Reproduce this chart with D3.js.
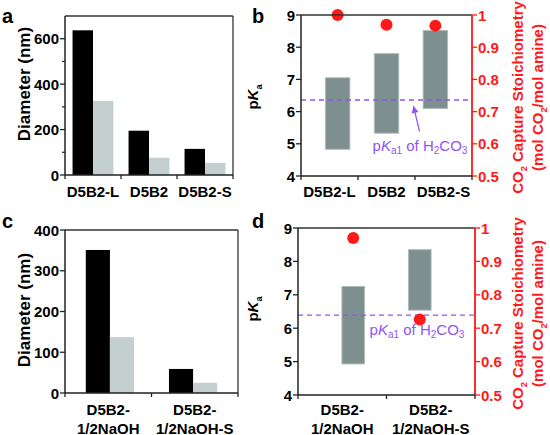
<!DOCTYPE html>
<html><head><meta charset="utf-8">
<script src="https://cdn.jsdelivr.net/npm/d3@7"></script>
<style>body{margin:0;background:#fff}text{font-family:"Liberation Sans",Arial,sans-serif;font-weight:bold}</style>
</head><body><svg id="c" width="550" height="435"></svg>
<script>
// ---- data ----
const catsA = ["D5B2-L","D5B2","D5B2-S"];
const diamBlackA = [637, 195, 115];
const diamGrayA = [326, 76, 53];
const yTicksA = [0,200,400,600];

const catsB = ["D5B2-L","D5B2","D5B2-S"];
const pkaLowB = [4.83, 5.33, 6.10];
const pkaHighB = [7.05, 7.80, 8.52];
const stoichB = [1.0, 0.97, 0.967];
const pka1B = 6.36;

const catsC = [["D5B2-","1/2NaOH"],["D5B2-","1/2NaOH-S"]];
const diamBlackC = [351, 59];
const diamGrayC = [137, 25];
const yTicksC = [0,100,200,300,400];

const catsD = [["D5B2-","1/2NaOH"],["D5B2-","1/2NaOH-S"]];
const pkaLowD = [4.93, 6.54];
const pkaHighD = [7.25, 8.35];
const stoichD = [0.97, 0.726];
const pka1D = 6.39;

const pkaTicks = [4,5,6,7,8,9];
const stTicks = [0.5,0.6,0.7,0.8,0.9,1];
const stTickLabels = ["0.5","0.6","0.7","0.8","0.9","1"];

const svg = d3.select("#c");
const RED = "#ff1a1a", PURPLE = "#8f55f0";

function frame(g, x0, x1, y0, y1, rightColor) {
  g.append("line").attr("x1",x0).attr("x2",x1).attr("y1",y0).attr("y2",y0).attr("stroke","#333").attr("stroke-width",1.3);
  g.append("line").attr("x1",x1).attr("x2",x1).attr("y1",y0).attr("y2",y1).attr("stroke",rightColor||"#333").attr("stroke-width",1.3);
}
function xBandAxis(g, x, y1, n, labels, lineBase, twoLine) {
  const ax = g.append("g");
  const r = x.range();
  ax.append("line").attr("x1",r[0]).attr("x2",r[1]).attr("y1",y1).attr("y2",y1).attr("stroke","#222").attr("stroke-width",1.5);
  const step = (r[1]-r[0])/n;
  for (let i=0;i<=n;i++) {
    ax.append("line").attr("x1",r[0]+i*step).attr("x2",r[0]+i*step).attr("y1",y1).attr("y2",y1+4).attr("stroke","#222").attr("stroke-width",1.3);
  }
  labels.forEach((l,i)=>{
    const cx = r[0]+(i+0.5)*step;
    if (twoLine) {
      l.forEach((s,j)=>ax.append("text").attr("x",cx).attr("y",lineBase+j*18.5).attr("text-anchor","middle").attr("font-size",15).text(s));
    } else {
      ax.append("text").attr("x",cx).attr("y",lineBase).attr("text-anchor","middle").attr("font-size",15).text(l);
    }
  });
}
function leftAxis(g, y, x0, ticks, minors, fmt) {
  g.append("line").attr("x1",x0).attr("x2",x0).attr("y1",y.range()[0]).attr("y2",y.range()[1]).attr("stroke","#222").attr("stroke-width",1.5);
  ticks.forEach(t=>{
    g.append("line").attr("x1",x0-5).attr("x2",x0).attr("y1",y(t)).attr("y2",y(t)).attr("stroke","#222").attr("stroke-width",1.3);
    g.append("text").attr("x",x0-6).attr("y",y(t)+5.5).attr("text-anchor","end").attr("font-size",15).text(fmt?fmt(t):t);
  });
  (minors||[]).forEach(t=>{
    g.append("line").attr("x1",x0-3).attr("x2",x0).attr("y1",y(t)).attr("y2",y(t)).attr("stroke","#222").attr("stroke-width",1.2);
  });
}
function rightAxis(g, y, x1) {
  g.append("line").attr("x1",x1).attr("x2",x1).attr("y1",y.range()[0]).attr("y2",y.range()[1]).attr("stroke",RED).attr("stroke-width",1.5);
  stTicks.forEach((t,i)=>{
    g.append("line").attr("x1",x1).attr("x2",x1+5).attr("y1",y(t)).attr("y2",y(t)).attr("stroke",RED).attr("stroke-width",1.3);
    g.append("text").attr("x",x1+6).attr("y",y(t)+5.5).attr("font-size",15).attr("fill",RED).text(stTickLabels[i]);
  });
}
function rotLabel(g, x, y, parts, size, color) {
  const t = g.append("text").attr("transform",`translate(${x},${y}) rotate(-90)`).attr("text-anchor","middle").attr("font-size",size).attr("fill",color||"#000");
  parts.forEach(p=>{
    const s = t.append("tspan").text(p.t);
    if (p.sub) s.attr("font-size",size*0.62).attr("dy",4);
    else if (p.after) s.attr("dy",-4);
    if (p.it) s.attr("font-style","italic");
  });
  return t;
}
function pkaAnnot(g, cx, base) {
  const t = g.append("text").attr("x",cx).attr("y",base).attr("text-anchor","middle").attr("font-size",15).style("font-weight","normal").attr("fill",PURPLE);
  t.append("tspan").text("p");
  t.append("tspan").attr("font-style","italic").text("K");
  t.append("tspan").attr("font-size",10).attr("dy",3).text("a1");
  t.append("tspan").attr("dy",-3).text(" of H");
  t.append("tspan").attr("font-size",10).attr("dy",3).text("2");
  t.append("tspan").attr("dy",-3).text("CO");
  t.append("tspan").attr("font-size",10).attr("dy",3).text("3");
}
function panelLetter(x,y,s){ svg.append("text").attr("x",x).attr("y",y).attr("font-size",20).text(s); }

// ---- Panel a ----
(function(){
  const g = svg.append("g");
  const x0=65,x1=233,y0=16,y1=175;
  const x = d3.scaleBand().domain(catsA).range([x0,x1]).paddingInner(0.27).paddingOuter(0.135);
  const y = d3.scaleLinear().domain([0,700]).range([y1,y0]);
  const bw = x.bandwidth()/2;
  g.selectAll(".bk").data(catsA).join("rect").attr("x",d=>x(d)).attr("width",bw).attr("y",(d,i)=>y(diamBlackA[i])).attr("height",(d,i)=>y1-y(diamBlackA[i])).attr("fill","#000");
  g.selectAll(".gr").data(catsA).join("rect").attr("x",d=>x(d)+bw).attr("width",bw).attr("y",(d,i)=>y(diamGrayA[i])).attr("height",(d,i)=>y1-y(diamGrayA[i])).attr("fill","#c4d0d0");
  frame(g,x0,x1,y0,y1);
  leftAxis(g,y,x0,yTicksA,[100,300,500]);
  xBandAxis(g,x,y1,3,catsA,197,false);
  rotLabel(g,30,84,[{t:"Diameter (nm)"}],17);
})();

// ---- Panel b / d ----
function pkaPanel(cats, lo, hi, st, pka1, x0,x1,y0,y1, pad, twoLine, labBase, annX, annBase, arrow, labY) {
  const g = svg.append("g");
  const x = d3.scaleBand().domain(d3.range(cats.length)).range([x0,x1]).padding(pad);
  const y = d3.scaleLinear().domain([4,9]).range([y1,y0]);
  const y2 = d3.scaleLinear().domain([0.5,1]).range([y1,y0]);
  g.selectAll(".fb").data(cats).join("rect").attr("x",(d,i)=>x(i)).attr("width",x.bandwidth())
    .attr("y",(d,i)=>y(hi[i])).attr("height",(d,i)=>y(lo[i])-y(hi[i])).attr("fill","#7e8f8f").attr("stroke","#aebcbc").attr("stroke-width",1);
  g.append("line").attr("x1",x0).attr("x2",x1).attr("y1",y(pka1)).attr("y2",y(pka1)).attr("stroke",PURPLE).attr("stroke-width",1.3).attr("stroke-dasharray","5,4");
  g.selectAll(".dot").data(cats).join("circle").attr("cx",(d,i)=>x(i)+x.bandwidth()/2).attr("cy",(d,i)=>y2(st[i])).attr("r",6).attr("fill",RED);
  frame(g,x0,x1,y0,y1,RED);
  leftAxis(g,y,x0,pkaTicks,[]);
  rightAxis(g,y2,x1);
  const xb = d3.scaleBand().domain(d3.range(cats.length)).range([x0,x1]);
  xBandAxis(g,xb,y1,cats.length,cats,labBase,twoLine);
  pkaAnnot(g,annX,annBase);
  if (arrow) {
    g.append("line").attr("x1",arrow[0]).attr("y1",arrow[1]).attr("x2",arrow[2]).attr("y2",arrow[3]).attr("stroke",PURPLE).attr("stroke-width",1.2);
    const ang = Math.atan2(arrow[3]-arrow[1], arrow[2]-arrow[0]);
    const L=7, W=3.5;
    const bx = arrow[2]-L*Math.cos(ang), by = arrow[3]-L*Math.sin(ang);
    g.append("path").attr("d",`M${arrow[2]},${arrow[3]}L${bx-W*Math.sin(ang)},${by+W*Math.cos(ang)}L${bx+W*Math.sin(ang)},${by-W*Math.cos(ang)}Z`).attr("fill",PURPLE);
  }
  rotLabel(g,258,labY,[{t:"p"},{t:"K",it:true},{t:"a",sub:true}],15);
  const cy = (y0+y1)/2 + 2;
  rotLabel(g,523,cy,[{t:"CO"},{t:"2",sub:true},{t:" Capture Stoichiometry",after:true}],15,RED);
  rotLabel(g,543,cy,[{t:"(mol CO"},{t:"2",sub:true},{t:"/mol amine)",after:true}],15,RED);
}
pkaPanel(catsB,pkaLowB,pkaHighB,stoichB,pka1B,301,472,15,176,0.5,false,197,420,151,[419.5,131.5,413.5,106],97);

// ---- Panel c ----
(function(){
  const g = svg.append("g");
  const x0=65,x1=238,y0=230,y1=393;
  const x = d3.scaleBand().domain(d3.range(2)).range([x0,x1]).paddingInner(0.42).paddingOuter(0.25);
  const y = d3.scaleLinear().domain([0,400]).range([y1,y0]);
  const bw = x.bandwidth()/2;
  g.selectAll(".bk").data(catsC).join("rect").attr("x",(d,i)=>x(i)).attr("width",bw).attr("y",(d,i)=>y(diamBlackC[i])).attr("height",(d,i)=>y1-y(diamBlackC[i])).attr("fill","#000");
  g.selectAll(".gr").data(catsC).join("rect").attr("x",(d,i)=>x(i)+bw).attr("width",bw).attr("y",(d,i)=>y(diamGrayC[i])).attr("height",(d,i)=>y1-y(diamGrayC[i])).attr("fill","#c4d0d0");
  frame(g,x0,x1,y0,y1);
  leftAxis(g,y,x0,yTicksC,[]);
  const xb = d3.scaleBand().domain(d3.range(2)).range([x0,x1]);
  xBandAxis(g,xb,y1,2,catsC,415,true);
  rotLabel(g,30,310,[{t:"Diameter (nm)"}],17);
})();

pkaPanel(catsD,pkaLowD,pkaHighD,stoichD,pka1D,298,475,228,395,0.66,true,415,417,335,null,309);

panelLetter(2,23,"a"); panelLetter(252,23,"b"); panelLetter(2,228,"c"); panelLetter(252,228,"d");
</script></body></html>
